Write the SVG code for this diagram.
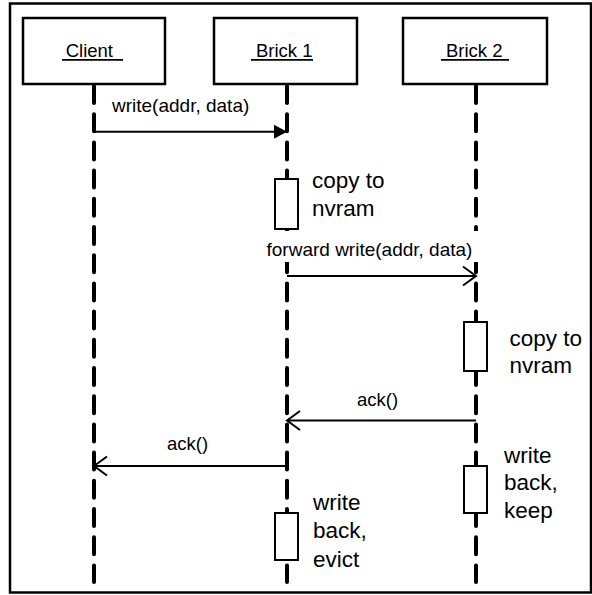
<svg xmlns="http://www.w3.org/2000/svg" width="592" height="595" viewBox="0 0 592 595">
<style>
.frame{fill:none;stroke:#000;stroke-width:2.5}
.head{fill:#fff;stroke:#000;stroke-width:2.5}
.act{fill:#fff;stroke:#000;stroke-width:2}
.life{stroke:#000;stroke-width:4;stroke-dasharray:17 11.2;stroke-linecap:round;fill:none}
.msg{stroke:#000;stroke-width:2;fill:none}
.ul{stroke:#000;stroke-width:1.8}
text{font-family:"Liberation Sans",Arial,sans-serif;fill:#000}
.ht{font-size:18.5px}
.mt{font-size:19px}
.at{font-size:18.5px}
.nt{font-size:22.5px}
</style>
<defs>
<marker id="open" markerUnits="userSpaceOnUse" markerWidth="20" markerHeight="24" viewBox="0 0 20 24" refX="15" refY="12" orient="auto">
<path d="M2,2.5 L15,12 L2,21.5" fill="none" stroke="#000" stroke-width="2"/>
</marker>
<marker id="filled" markerUnits="userSpaceOnUse" markerWidth="14" markerHeight="16" viewBox="0 0 14 16" refX="13" refY="8" orient="auto">
<path d="M0,1 L13,8 L0,15 Z" fill="#000"/>
</marker>
</defs>
<rect class="frame" x="10" y="3.5" width="581" height="589"/>
<g id="client">
<line class="life" x1="94" y1="86" x2="94" y2="582"/>
<rect class="head" x="23" y="18" width="142" height="66"/>
<text class="ht" x="65.7" y="57">Client</text>
<line class="ul" x1="62" y1="59.8" x2="123" y2="59.8"/>
</g>
<g id="brick1">
<line class="life" x1="287" y1="86" x2="287" y2="582"/>
<rect class="head" x="214" y="18" width="143" height="66"/>
<text class="ht" x="256" y="57">Brick 1</text>
<line class="ul" x1="251" y1="59.8" x2="313" y2="59.8"/>
</g>
<g id="brick2">
<line class="life" x1="476" y1="86" x2="476" y2="582"/>
<rect class="head" x="403" y="18" width="144" height="66"/>
<text class="ht" x="446" y="57">Brick 2</text>
<line class="ul" x1="441" y1="59.8" x2="509" y2="59.8"/>
</g>
<g id="connectors">
<g id="msg-write">
<line class="msg" x1="94" y1="131.7" x2="287" y2="131.7" marker-end="url(#filled)"/>
<text class="mt" x="112" y="112">write(addr, data)</text>
</g>
<g id="msg-forward">
<rect x="262" y="231" width="219" height="31" fill="#fff"/>
<text class="mt" x="266.5" y="255.5">forward write(addr, data)</text>
<line class="msg" x1="287" y1="276" x2="476" y2="276" marker-end="url(#open)"/>
</g>
<g id="msg-ack1">
<text class="at" x="357" y="406">ack()</text>
<line class="msg" x1="476" y1="420.5" x2="287" y2="420.5" marker-end="url(#open)"/>
</g>
<g id="msg-ack2">
<text class="at" x="167" y="449.5">ack()</text>
<line class="msg" x1="287" y1="466" x2="94" y2="466" marker-end="url(#open)"/>
</g>
</g>
<g id="act-b1-copy">
<rect class="act" x="275" y="179" width="23" height="50"/>
<text class="nt" x="312" y="188">copy to</text>
<text class="nt" x="312" y="216">nvram</text>
</g>
<g id="act-b2-copy">
<rect class="act" x="464" y="322" width="23" height="49"/>
<text class="nt" x="509.6" y="346">copy to</text>
<text class="nt" x="509.6" y="373">nvram</text>
</g>
<g id="act-b2-writeback">
<rect class="act" x="464" y="466" width="23" height="47"/>
<text class="nt" x="504" y="463">write</text>
<text class="nt" x="504" y="490">back,</text>
<text class="nt" x="504" y="518">keep</text>
</g>
<g id="act-b1-writeback">
<rect class="act" x="275" y="513" width="23" height="47"/>
<text class="nt" x="313" y="510">write</text>
<text class="nt" x="313" y="538">back,</text>
<text class="nt" x="313" y="567">evict</text>
</g>
</svg>
